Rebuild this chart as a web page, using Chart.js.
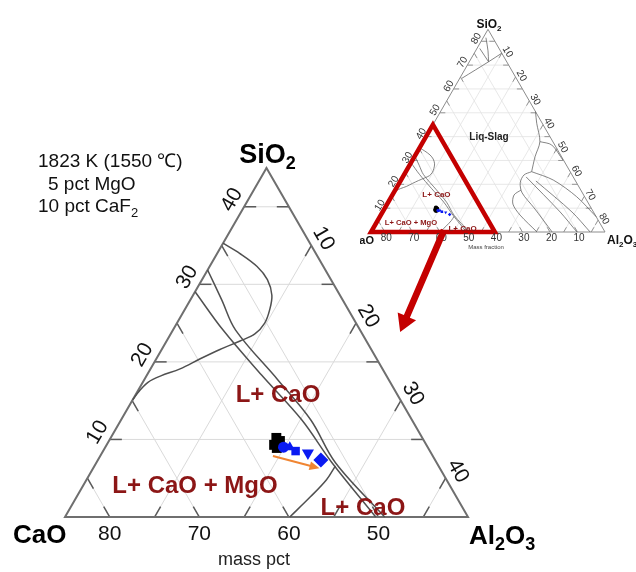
<!DOCTYPE html>
<html>
<head>
<meta charset="utf-8">
<script src="https://cdn.jsdelivr.net/npm/chart.js@4.4.1/dist/chart.umd.min.js"></script>
<style>
  html, body { margin: 0; padding: 0; background: #fff; }
  #wrap { position: relative; width: 636px; height: 572px; }
  canvas { display: block; }
</style>
</head>
<body>
<div id="wrap"><canvas id="c" width="636" height="572"></canvas></div>
<script>
// Isothermal section CaO–SiO2–Al2O3 with 5 pct MgO and 10 pct CaF2 fixed,
// so the three oxides always add up to 85 mass pct.
const OXIDE_SUM = 85;
const WINDOW_SPAN = 45;               // enlarged window: CaO >= 40 pct

// Tick values
const SIO2_TICKS = [10, 20, 30, 40];
const AL2O3_TICKS = [10, 20, 30, 40];
const CAO_TICKS = [80, 70, 60, 50];
const FULL_TICKS = [10, 20, 30, 40, 50, 60, 70, 80];

// Phase boundaries, points given as [SiO2, Al2O3] in mass pct
const boundaryA = [[35.3, 0], [34.0, 2.5], [32.3, 5.3], [30.6, 7.3], [28.6, 8.8], [26.7, 9.5],
  [25.0, 9.8], [23.6, 9.4], [22.7, 8.2], [21.6, 6.5], [20.4, 4.9], [19.1, 3.3], [18.2, 1.6],
  [17.4, 0.6], [16.3, 0.2], [15.1, 0]];
const boundaryB1 = [[31.85, 0], [28.0, 3.5], [24.1, 7.0], [17.7, 14.9], [12.5, 21.2], [7.0, 26.7], [0, 35.7]];
const boundaryB2 = [[29.05, 0], [24.1, 5.6], [18.3, 12.8], [12.5, 20.2], [7.1, 26.2], [0, 34.7]];
const boundaryC = [[0, 25.1], [2.6, 26.1], [4.8, 26.8], [6.6, 26.9]];

// Further boundaries of the full section (silica and alumina corners)
const silicaBoundaries = [
  [[75, 10], [71.4, 7.0], [64.5, 0.8]],
  [[71.4, 7.0], [76, 4.5], [81.5, 1.0]],
  [[71.4, 7.0], [77, 1.0]]
];
const aluminaBoundaries = [
  [[50.5, 34.5], [45.6, 37.4], [37.9, 42.4], [31.6, 43.8], [25.3, 45.7]],
  [[37.9, 42.4], [36.5, 47.4], [30.2, 54.6]],
  [[25.3, 45.7], [21.8, 55.3], [14.8, 67.3], [6.4, 78.6]],
  [[25.3, 45.7], [23.9, 43.6], [20.6, 43.9], [16.4, 46.7], [10.1, 54.2], [0, 65.8]],
  [[17.6, 45.7], [15.5, 44.2], [11.7, 45.7], [7.1, 50.6], [0, 60.3]],
  [[23.1, 44.8], [8.4, 64.5], [0, 74.8]],
  [[21.4, 49.2], [8.4, 68.8], [0, 79.6]]
];

// Slag compositions [SiO2, Al2O3]
const slagsBlack = [[10.2, 18.5], [9.8, 19.1], [9.3, 18.7], [8.9, 19.2]];
const slagsBlue = [[9.0, 19.9], [9.0, 20.6], [8.5, 21.5], [8.25, 23.0], [7.35, 24.9]];
const slagTrend = [[7.86, 19.29], [6.28, 25.28]];

// ---------------------------------------------------------------- layout
const W = 636, H = 572;
const FONT = '"Liberation Sans", Arial, Helvetica, sans-serif';
const LABEL_RED = '#8c1616';
const MAIN_VIEW = { left: 65, base: 517, side: 403, span: WINDOW_SPAN };
const FULL_VIEW = { left: 371, base: 232, side: 234, span: OXIDE_SUM };

const REGION_LABELS = [
  { text: 'L+ CaO', at: [14.87, 16.35] },
  { text: 'L+ CaO + MgO', at: [3.09, 12.97] },
  { text: 'L+ CaO', at: [0.26, 33.14] }
];
const LIQ_LABEL_AT = [38.6, 23.56];
const ZOOM_ARROW_FROM = [0.8, 26.1];   // on the window outline of the full section
const ZOOM_ARROW_TO = [23.85, 25.5];   // pointing into the enlarged window

const SQ = Math.sqrt(3) / 2;
const toXY = ([s, a]) => ({ x: a + s / 2, y: s * SQ });

function axisRange(v, axis) {
  const k = v.side / v.span;
  return axis === 'x'
    ? { min: -v.left / k, max: (W - v.left) / k }
    : { min: -(H - v.base) / k, max: v.base / k };
}

// grid lines of a triangle with side `span`, as pairs of compositions
function gridSegments(span, sio2, al2o3, cao) {
  const segs = [];
  sio2.forEach(v => segs.push([[v, 0], [v, span - v]]));
  al2o3.forEach(v => segs.push([[0, v], [span - v, v]]));
  cao.forEach(c => { const w = OXIDE_SUM - c; segs.push([[0, w], [w, 0]]); });
  return segs;
}
function tickSegments(segs, len) {
  const out = [];
  segs.forEach(([p, q]) => {
    const a = toXY(p), b = toXY(q);
    const L = Math.hypot(b.x - a.x, b.y - a.y), t = len / L;
    const lerp = (u, v, f) => [u[0] + (v[0] - u[0]) * f, u[1] + (v[1] - u[1]) * f];
    out.push([p, lerp(p, q, t)]);
    out.push([q, lerp(q, p, t)]);
  });
  return out;
}

function path(comps, ax, color, width, order, extra) {
  return Object.assign({
    data: comps.map(toXY), xAxisID: ax[0], yAxisID: ax[1], showLine: true,
    borderColor: color, borderWidth: width, pointRadius: 0, pointHoverRadius: 0,
    tension: 0, order, clip: false, fill: false
  }, extra || {});
}

const MAIN_AX = ['x', 'y'], FULL_AX = ['xi', 'yi'];
const datasets = [];

// --- enlarged window
const mainGrid = gridSegments(WINDOW_SPAN, SIO2_TICKS, AL2O3_TICKS, CAO_TICKS);
mainGrid.forEach(s => datasets.push(path(s, MAIN_AX, '#dadada', 1, 60)));
tickSegments(mainGrid, 1.35).forEach(s => datasets.push(path(s, MAIN_AX, '#5a5a5a', 1.5, 50)));
datasets.push(path([[0, 0], [WINDOW_SPAN, 0], [0, WINDOW_SPAN], [0, 0], [WINDOW_SPAN, 0]], MAIN_AX, '#6f6f6f', 2, 40,
  { borderJoinStyle: 'miter' }));
[boundaryA, boundaryB1, boundaryB2, boundaryC].forEach(b =>
  datasets.push(path(b, MAIN_AX, '#505050', 1.5, 30, { tension: 0.35 })));
datasets.push({
  data: slagsBlack.map(toXY), xAxisID: 'x', yAxisID: 'y', showLine: false, order: 6,
  pointStyle: 'rect', pointRadius: 7, pointHoverRadius: 7, backgroundColor: '#000', borderColor: '#000', borderWidth: 0
});
datasets.push({
  data: slagsBlue.map(toXY), xAxisID: 'x', yAxisID: 'y', showLine: false, order: 5,
  pointStyle: ['circle', 'triangle', 'rect', 'triangle', 'rectRot'],
  pointRotation: [0, 0, 0, 180, 0],
  pointRadius: [5.5, 6, 6, 7, 7.5], backgroundColor: '#0a1af2', borderColor: '#0a1af2', borderWidth: 0
});

// --- full section
const fullGrid = gridSegments(OXIDE_SUM, FULL_TICKS, FULL_TICKS, FULL_TICKS);
fullGrid.forEach(s => datasets.push(path(s, FULL_AX, '#e2e2e2', 0.8, 60)));
tickSegments(fullGrid, 2).forEach(s => datasets.push(path(s, FULL_AX, '#8a8a8a', 0.9, 50)));
datasets.push(path([[0, 0], [OXIDE_SUM, 0], [0, OXIDE_SUM], [0, 0]], FULL_AX, '#8c8c8c', 1, 40));
[boundaryA, boundaryB1, boundaryB2, boundaryC, ...silicaBoundaries, ...aluminaBoundaries].forEach(b =>
  datasets.push(path(b, FULL_AX, '#666', 0.8, 30, { tension: 0.3 })));
datasets.push({
  data: slagsBlack.map(toXY), xAxisID: 'xi', yAxisID: 'yi', showLine: false, order: 6,
  pointStyle: 'circle', pointRadius: 2.2, backgroundColor: '#000', borderWidth: 0
});
datasets.push({
  data: slagsBlue.map(toXY), xAxisID: 'xi', yAxisID: 'yi', showLine: false, order: 5,
  pointStyle: ['circle', 'triangle', 'rect', 'triangle', 'rectRot'], pointRotation: [0, 0, 0, 180, 0],
  pointRadius: 1.8, backgroundColor: '#0a1af2', borderWidth: 0
});
datasets.push(path([[0, 0], [WINDOW_SPAN, 0], [0, WINDOW_SPAN], [0, 0], [WINDOW_SPAN, 0]], FULL_AX, '#c40000', 4.5, 10,
  { borderJoinStyle: 'miter' }));

// ---------------------------------------------------------------- text and arrows
function drawFormula(ctx, parts, x, y, size, align) {
  const big = `bold ${size}px ${FONT}`, small = `bold ${Math.round(size * 0.68)}px ${FONT}`;
  let w = 0;
  parts.forEach(([t, sub]) => { ctx.font = sub ? small : big; w += ctx.measureText(t).width; });
  let cx = align === 'center' ? x - w / 2 : align === 'right' ? x - w : x;
  ctx.textAlign = 'left'; ctx.textBaseline = 'alphabetic';
  parts.forEach(([t, sub]) => {
    ctx.font = sub ? small : big;
    ctx.fillText(t, cx, sub ? y + size * 0.22 : y);
    cx += ctx.measureText(t).width;
  });
}
function drawRotated(ctx, text, x, y, rot, font) {
  ctx.save();
  ctx.translate(x, y); ctx.rotate(rot);
  ctx.font = font; ctx.textAlign = 'center'; ctx.textBaseline = 'middle';
  ctx.fillText(text, 0, 0);
  ctx.restore();
}
function arrow(ctx, x0, y0, x1, y1, shaft, headLen, headW, color) {
  const ang = Math.atan2(y1 - y0, x1 - x0), len = Math.hypot(x1 - x0, y1 - y0);
  ctx.save();
  ctx.translate(x0, y0); ctx.rotate(ang);
  ctx.fillStyle = color;
  ctx.beginPath();
  ctx.moveTo(0, -shaft / 2); ctx.lineTo(len - headLen, -shaft / 2);
  ctx.lineTo(len - headLen, -headW / 2); ctx.lineTo(len, 0);
  ctx.lineTo(len - headLen, headW / 2); ctx.lineTo(len - headLen, shaft / 2);
  ctx.lineTo(0, shaft / 2); ctx.closePath(); ctx.fill();
  ctx.restore();
}

const annotate = {
  id: 'annotate',
  beforeDraw(chart) {
    const ctx = chart.ctx;
    ctx.save(); ctx.fillStyle = '#fff'; ctx.fillRect(0, 0, W, H); ctx.restore();
  },
  afterDatasetsDraw(chart) {
    const ctx = chart.ctx, sc = chart.scales;
    const px = (comp, ax) => { const p = toXY(comp); return [sc[ax[0]].getPixelForValue(p.x), sc[ax[1]].getPixelForValue(p.y)]; };
    const NL = [-SQ, -0.5], NR = [SQ, -0.5];
    ctx.save();

    // ---- enlarged window: tick labels
    ctx.fillStyle = '#111';
    const f21 = `21px ${FONT}`;
    SIO2_TICKS.forEach(v => { const [x, y] = px([v, 0], MAIN_AX); drawRotated(ctx, String(v), x + 14 * NL[0], y + 14 * NL[1], -Math.PI / 3, f21); });
    AL2O3_TICKS.forEach(v => { const [x, y] = px([WINDOW_SPAN - v, v], MAIN_AX); drawRotated(ctx, String(v), x + 14 * NR[0], y + 14 * NR[1], Math.PI / 3, f21); });
    CAO_TICKS.forEach(c => { const [x, y] = px([0, OXIDE_SUM - c], MAIN_AX); drawRotated(ctx, String(c), x, y + 17, 0, f21); });

    // corner names
    ctx.fillStyle = '#000';
    drawFormula(ctx, [['SiO'], ['2', true]], 267.5, 163, 27, 'center');
    drawFormula(ctx, [['CaO']], 13, 543, 26, 'left');
    drawFormula(ctx, [['Al'], ['2', true], ['O'], ['3', true]], 469, 544, 26, 'left');

    ctx.fillStyle = '#222';
    ctx.font = `18px ${FONT}`; ctx.textAlign = 'center'; ctx.textBaseline = 'alphabetic';
    ctx.fillText('mass pct', 254, 565);

    // conditions
    ctx.fillStyle = '#111';
    ctx.font = `19px ${FONT}`; ctx.textAlign = 'left';
    ctx.fillText('1823 K (1550 \u2103)', 38, 167);
    ctx.fillText('5 pct MgO', 48, 190);
    ctx.fillText('10 pct CaF', 38, 212);
    const wCaF = ctx.measureText('10 pct CaF').width;
    ctx.font = `13px ${FONT}`;
    ctx.fillText('2', 38 + wCaF, 217);

    // region names
    ctx.fillStyle = LABEL_RED;
    ctx.font = `bold 24px ${FONT}`; ctx.textAlign = 'center'; ctx.textBaseline = 'alphabetic';
    REGION_LABELS.forEach(l => { const [x, y] = px(l.at, MAIN_AX); ctx.fillText(l.text, x, y); });

    // trend arrow of the slags
    {
      const [x0, y0] = px(slagTrend[0], MAIN_AX), [x1, y1] = px(slagTrend[1], MAIN_AX);
      ctx.strokeStyle = '#f08532'; ctx.fillStyle = '#f08532'; ctx.lineWidth = 2;
      const ang = Math.atan2(y1 - y0, x1 - x0);
      ctx.beginPath(); ctx.moveTo(x0, y0); ctx.lineTo(x1 - 6 * Math.cos(ang), y1 - 6 * Math.sin(ang)); ctx.stroke();
      ctx.save(); ctx.translate(x1, y1); ctx.rotate(ang);
      ctx.beginPath(); ctx.moveTo(0, 0); ctx.lineTo(-10, -4.5); ctx.lineTo(-10, 4.5); ctx.closePath(); ctx.fill();
      ctx.restore();
    }

    // ---- full section
    ctx.fillStyle = '#333';
    const f10 = `10px ${FONT}`;
    FULL_TICKS.forEach(v => { const [x, y] = px([v, 0], FULL_AX); drawRotated(ctx, String(v), x + 5.5 * NL[0], y + 5.5 * NL[1], -Math.PI / 3, f10); });
    FULL_TICKS.forEach(v => { const [x, y] = px([OXIDE_SUM - v, v], FULL_AX); drawRotated(ctx, String(v), x + 5.5 * NR[0] + 1, y + 5.5 * NR[1] + 1.5, Math.PI / 3, f10); });
    FULL_TICKS.forEach(c => { const [x, y] = px([0, OXIDE_SUM - c], FULL_AX); drawRotated(ctx, String(c), x + 1.5, y + 6, 0, f10); });

    ctx.fillStyle = '#111';
    drawFormula(ctx, [['SiO'], ['2', true]], 489, 28, 12, 'center');
    drawFormula(ctx, [['Al'], ['2', true], ['O'], ['3', true]], 607, 244, 12, 'left');
    ctx.save();
    ctx.beginPath(); ctx.rect(360, 200, W - 360, 60); ctx.clip();
    drawFormula(ctx, [['CaO']], 374, 244, 11, 'right');
    ctx.restore();

    ctx.fillStyle = '#444';
    ctx.font = `6px ${FONT}`; ctx.textAlign = 'center'; ctx.textBaseline = 'alphabetic';
    ctx.fillText('Mass fraction', 486, 249);

    ctx.fillStyle = '#222';
    ctx.font = `bold 10px ${FONT}`;
    { const [x, y] = px(LIQ_LABEL_AT, FULL_AX); ctx.fillText('Liq-Slag', x, y); }

    ctx.fillStyle = LABEL_RED;
    REGION_LABELS.forEach((l, i) => {
      const [x, y] = px(l.at, FULL_AX);
      ctx.font = `bold ${i === 1 ? 7.6 : 8}px ${FONT}`;
      ctx.fillText(l.text, x, y);
    });

    // arrow from the window of the full section to the enlarged view
    {
      const [x0, y0] = px(ZOOM_ARROW_FROM, FULL_AX), [x1, y1] = px(ZOOM_ARROW_TO, MAIN_AX);
      arrow(ctx, x0, y0, x1, y1, 6.5, 17, 20, '#c40000');
    }
    ctx.restore();
  }
};

new Chart(document.getElementById('c'), {
  type: 'scatter',
  data: { datasets },
  options: {
    responsive: false,
    animation: false,
    events: [],
    layout: { padding: 0, autoPadding: false },
    plugins: { legend: { display: false }, tooltip: { enabled: false }, title: { display: false } },
    scales: {
      x: Object.assign({ type: 'linear', display: false }, axisRange(MAIN_VIEW, 'x')),
      y: Object.assign({ type: 'linear', display: false }, axisRange(MAIN_VIEW, 'y')),
      xi: Object.assign({ type: 'linear', axis: 'x', position: 'bottom', display: false }, axisRange(FULL_VIEW, 'x')),
      yi: Object.assign({ type: 'linear', axis: 'y', position: 'left', display: false }, axisRange(FULL_VIEW, 'y'))
    }
  },
  plugins: [annotate]
});
</script>
</body>
</html>
